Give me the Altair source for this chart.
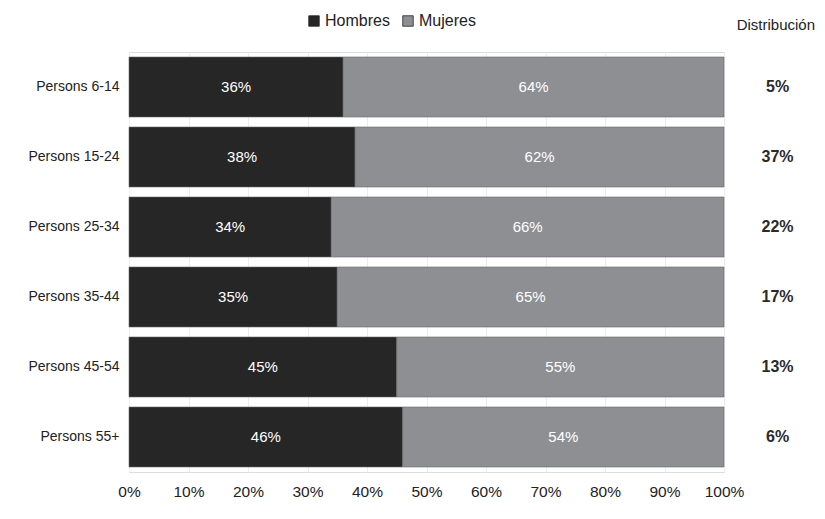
import altair as alt
import pandas as pd

categories = ["Persons 6-14", "Persons 15-24", "Persons 25-34", "Persons 35-44", "Persons 45-54", "Persons 55+"]
hombres = [0.36, 0.38, 0.34, 0.35, 0.45, 0.46]
mujeres = [0.64, 0.62, 0.66, 0.65, 0.55, 0.54]
distribucion = [0.05, 0.37, 0.22, 0.17, 0.13, 0.06]
series = ["Hombres", "Mujeres"]
colors = ["#262626", "#8e8f93"]

rows = []
for i, c in enumerate(categories):
    rows.append({"cat": c, "sexo": "Hombres", "order": 0, "value": hombres[i]})
    rows.append({"cat": c, "sexo": "Mujeres", "order": 1, "value": mujeres[i]})
df = pd.DataFrame(rows)
dist_df = pd.DataFrame({"cat": categories, "dist": distribucion})

FONT = "Liberation Sans"

y_enc = alt.Y("cat:N", sort=categories, title=None,
              scale=alt.Scale(paddingInner=1/7, paddingOuter=1/14),
              axis=alt.Axis(domain=False, ticks=False, labelFontSize=14, labelColor="#222",
                            labelPadding=10, labelFont=FONT))
x_scale = alt.Scale(domain=[0, 1], nice=False)

base = alt.Chart(df).transform_stack(
    stack="value", groupby=["cat"], as_=["x0", "x1"], sort=[alt.SortField("order")]
).transform_calculate(mid="(datum.x0 + datum.x1) / 2")

bars = base.mark_bar(stroke="#6a6a6a", strokeWidth=0.6).encode(
    x=alt.X("x0:Q", scale=x_scale, title=None,
            axis=alt.Axis(format=".0%", values=[i / 10 for i in range(11)], domain=False, ticks=False,
                          grid=True, gridColor="#ececec", labelFontSize=15.5, labelColor="#222",
                          labelPadding=12, labelFont=FONT, labelFlush=False, labelBound=False)),
    x2="x1:Q",
    y=y_enc,
    color=alt.Color("sexo:N", scale=alt.Scale(domain=series, range=colors),
                    legend=alt.Legend(title=None, orient="none", direction="horizontal",
                                      legendX=177, legendY=-39, symbolType="square", symbolSize=110,
                                      symbolStrokeColor="#222", symbolStrokeWidth=0.8,
                                      labelFontSize=16, labelColor="#222", labelFont=FONT,
                                      columnPadding=10, labelOffset=3)),
)

labels = base.mark_text(color="white", fontSize=15, font=FONT).encode(
    x=alt.X("mid:Q", scale=x_scale),
    y=alt.Y("cat:N", sort=categories),
    text=alt.Text("value:Q", format=".0%"),
)

dist_text = alt.Chart(dist_df).mark_text(color="#2a2a2a", fontSize=16, fontWeight="bold", font=FONT, clip=False).encode(
    x=alt.datum(1.09, scale=x_scale),
    y=alt.Y("cat:N", sort=categories),
    text=alt.Text("dist:Q", format=".0%"),
)

chart = alt.layer(bars, labels, dist_text).properties(
    width=595, height=420,
    autosize=alt.AutoSizeParams(type="none"),
    padding={"left": 121, "top": 44, "right": 93, "bottom": 39},
    title=alt.Title("Distribución", anchor="end", frame="group", dx=91, dy=20, offset=0,
                    fontSize=15, fontWeight="normal", color="#222", font=FONT),
).configure_view(stroke=None).configure(background="white")

chart.save("out.html", embed_options={"renderer": "svg", "actions": False})
